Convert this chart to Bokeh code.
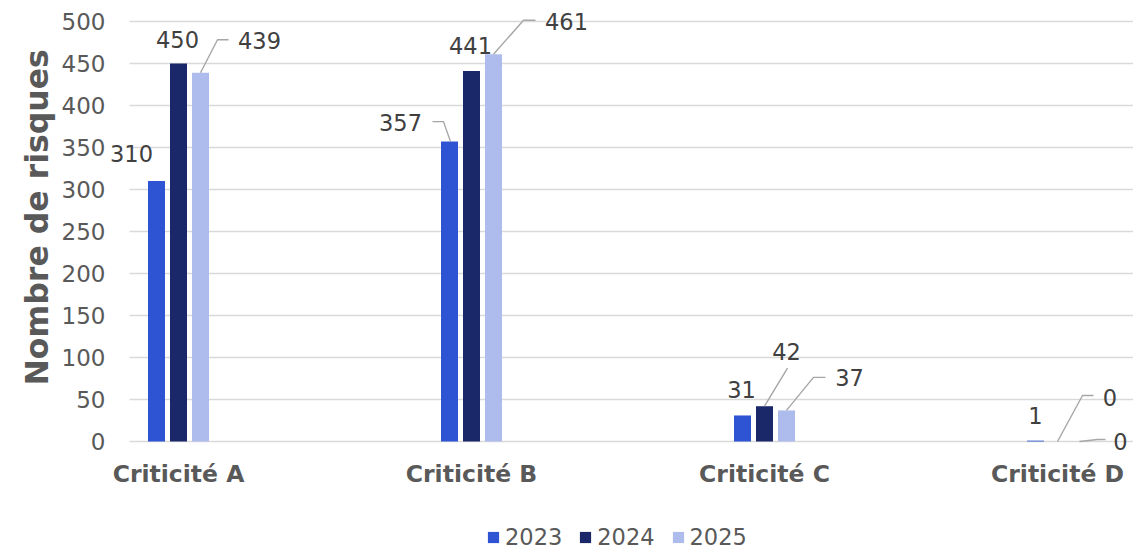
from bokeh.plotting import figure
from bokeh.models import (ColumnDataSource, FixedTicker, Legend, LegendItem,
                          LabelSet, Range1d, Title)
from bokeh.core.properties import value
from bokeh.embed import file_html
from bokeh.resources import INLINE

# ---------------- data ----------------
categories = ["Criticité A", "Criticité B", "Criticité C", "Criticité D"]
years = ["2023", "2024", "2025"]
v2023 = [310, 357, 31, 1]
v2024 = [450, 441, 42, 0]
v2025 = [439, 461, 37, 0]
y_ticks = [0, 50, 100, 150, 200, 250, 300, 350, 400, 450, 500]
y_title = "Nombre de risques"

# ---------------- styles / layout ----------------
colors = ["#2E54D3", "#1A2869", "#ADBCEC"]
FONT = "DejaVu Sans"
W, H = 1133, 550
BORDER_L = 107
PX_X = 293.0      # pixels per category
PX_Y = 0.84       # pixels per unit
BAR_W_PX = 17
BAR_STEP_PX = 22
A_CENTER_PX = 71  # first category center, from frame left
GRID_START_PX = 22
ZERO_PX = 441     # pixel row of value 0, from top
XAXIS_PX = 450    # pixel row of the category axis
frame_w = W - BORDER_L
frame_h = H
x_start = -A_CENTER_PX / PX_X
x_end = x_start + frame_w / PX_X
x_grid0 = x_start + GRID_START_PX / PX_X
y_end = ZERO_PX / PX_Y
y_start = -(frame_h - ZERO_PX) / PX_Y
x_axis_at = -(XAXIS_PX - ZERO_PX) / PX_Y

# label offsets (px right, px up) relative to each bar top
label_off = [
    [(-25, 28), (-49, 19.5), (-1, 26), (0, 25)],
    [(-1, 24), (-1, 26), (22, 54.5), (52.5, 44.5)],
    [(59, 32), (73, 32.5), (63, 33), (41, 0)],
]
# leader polylines (px right, px up) relative to each bar top
leaders = [
    [None, [(1, 0), (-6, 20), (-17, 20)], None, None],
    [None, None, [(0, 0), (23, 38)], [(0, 0), (25, 46), (36, 46)]],
    [[(0, 0), (17, 33), (28, 33)], [(0, 0), (30, 34), (42, 34)],
     [(0, 0), (27, 33), (39, 33)], [(0, 0), (18, 2), (26, 2)]],
]

p = figure(width=W, height=H, output_backend="svg", toolbar_location=None,
           x_range=Range1d(x_start, x_end), y_range=Range1d(y_start, y_end),
           min_border_left=BORDER_L, min_border_right=0,
           min_border_top=0, min_border_bottom=0)
p.outline_line_color = None
p.background_fill_color = "white"
p.border_fill_color = "white"

# horizontal grid lines (start a little right of the frame edge)
p.xgrid.grid_line_color = None
p.ygrid.grid_line_color = None
p.segment(x0=[x_grid0] * len(y_ticks), x1=[x_end] * len(y_ticks),
          y0=y_ticks, y1=y_ticks, line_color="#D9D9D9", line_width=1.5)

series = [v2023, v2024, v2025]
renderers = []
lx, ly, lt = [], [], []
lead_xs, lead_ys = [], []
for s, vals in enumerate(series):
    off = (s - 1) * BAR_STEP_PX / PX_X
    xs = [i + off for i in range(len(categories))]
    r = p.vbar(x=xs, top=vals, width=BAR_W_PX / PX_X, fill_color=colors[s],
               line_color=None)
    renderers.append(r)
    for i, v in enumerate(vals):
        dx, up = label_off[s][i]
        lx.append(xs[i] + dx / PX_X)
        ly.append(v + up / PX_Y)
        lt.append(str(v))
        ld = leaders[s][i]
        if ld:
            lead_xs.append([xs[i] + a / PX_X for a, b in ld])
            lead_ys.append([v + b / PX_Y for a, b in ld])

p.multi_line(xs=lead_xs, ys=lead_ys, line_color="#A6A6A6", line_width=1.4)

src = ColumnDataSource(dict(x=lx, y=ly, t=lt))
labels = LabelSet(x="x", y="y", text="t", source=src, text_align="center",
                  text_baseline="middle", text_font=value(FONT),
                  text_font_size="22.5px", text_color="#404040")
p.add_layout(labels)

# y axis
p.yaxis.ticker = FixedTicker(ticks=y_ticks)
p.yaxis.axis_line_color = None
p.yaxis.major_tick_line_color = None
p.yaxis.minor_tick_line_color = None
p.yaxis.major_label_text_font = FONT
p.yaxis.major_label_text_font_size = "23px"
p.yaxis.major_label_text_color = "#595959"
p.yaxis.major_label_standoff = -4

# y axis title, placed alongside the value area rather than the whole frame
p.add_layout(Title(text=y_title, align="left", offset=165,
                   text_font=FONT, text_font_style="bold",
                   text_font_size="31.5px", text_color="#595959",
                   standoff=8), "left")

# x axis (category labels), drawn inside the frame just under the zero line
p.xaxis.fixed_location = x_axis_at
p.xaxis.ticker = FixedTicker(ticks=list(range(len(categories))))
p.xaxis.major_label_overrides = {i: c for i, c in enumerate(categories)}
p.xaxis.axis_line_color = None
p.xaxis.major_tick_line_color = None
p.xaxis.minor_tick_line_color = None
p.xaxis.major_label_text_font = FONT
p.xaxis.major_label_text_font_style = "bold"
p.xaxis.major_label_text_font_size = "23.5px"
p.xaxis.major_label_text_color = "#595959"
p.xaxis.major_label_standoff = 3

legend = Legend(items=[LegendItem(label=y, renderers=[r])
                       for y, r in zip(years, renderers)],
                orientation="horizontal", location=(379, 0),
                padding=0, margin=0, spacing=16, label_standoff=5,
                glyph_width=14, glyph_height=14, label_height=20,
                label_text_font=FONT, label_text_font_size="22.5px",
                label_text_color="#595959", border_line_color=None,
                background_fill_alpha=0)
p.add_layout(legend)

open("out.html", "w").write(file_html(p, INLINE))
